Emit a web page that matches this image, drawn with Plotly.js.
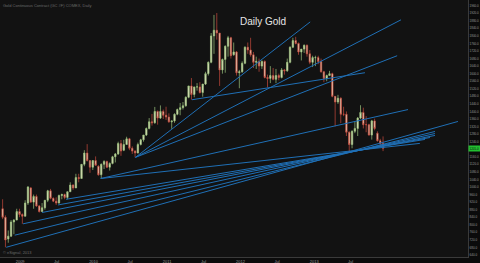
<!DOCTYPE html>
<html>
<head>
<meta charset="utf-8">
<script src="https://cdn.plot.ly/plotly-3.0.1.min.js"></script>
<style>html,body{margin:0;padding:0;background:#0b0b0b;}#chart{width:480px;height:263px;}</style>
</head>
<body>
<div id="chart"></div>
<script>
// Biweekly bars (period start), gold price USD/oz
const dates = ["2008-10-06","2008-10-20","2008-11-03","2008-11-17","2008-12-01","2008-12-15","2008-12-29","2009-01-12","2009-01-26","2009-02-09","2009-02-23","2009-03-09","2009-03-23","2009-04-06","2009-04-20","2009-05-04","2009-05-18","2009-06-01","2009-06-15","2009-06-29","2009-07-13","2009-07-27","2009-08-10","2009-08-24","2009-09-07","2009-09-21","2009-10-05","2009-10-19","2009-11-02","2009-11-16","2009-11-30","2009-12-14","2009-12-28","2010-01-11","2010-01-25","2010-02-08","2010-02-22","2010-03-08","2010-03-22","2010-04-05","2010-04-19","2010-05-03","2010-05-17","2010-05-31","2010-06-14","2010-06-28","2010-07-12","2010-07-26","2010-08-09","2010-08-23","2010-09-06","2010-09-20","2010-10-04","2010-10-18","2010-11-01","2010-11-15","2010-11-29","2010-12-13","2010-12-27","2011-01-10","2011-01-24","2011-02-07","2011-02-21","2011-03-07","2011-03-21","2011-04-04","2011-04-18","2011-05-02","2011-05-16","2011-05-30","2011-06-13","2011-06-27","2011-07-11","2011-07-25","2011-08-08","2011-08-22","2011-09-05","2011-09-19","2011-10-03","2011-10-17","2011-10-31","2011-11-14","2011-11-28","2011-12-12","2011-12-26","2012-01-09","2012-01-23","2012-02-06","2012-02-20","2012-03-05","2012-03-19","2012-04-02","2012-04-16","2012-04-30","2012-05-14","2012-05-28","2012-06-11","2012-06-25","2012-07-09","2012-07-23","2012-08-06","2012-08-20","2012-09-03","2012-09-17","2012-10-01","2012-10-15","2012-10-29","2012-11-12","2012-11-26","2012-12-10","2012-12-24","2013-01-07","2013-01-21","2013-02-04","2013-02-18","2013-03-04","2013-03-18","2013-04-01","2013-04-15","2013-04-29","2013-05-13","2013-05-27","2013-06-10","2013-06-24","2013-07-08","2013-07-22","2013-08-05","2013-08-19","2013-09-02","2013-09-16","2013-09-30","2013-10-14","2013-10-28","2013-11-11","2013-11-25","2013-12-09"];
const opens  = [885,840,725,740,815,825,870,855,845,915,995,920,950,900,870,890,930,980,940,925,915,955,960,945,975,1010,995,1050,1045,1120,1180,1140,1105,1140,1110,1065,1120,1135,1105,1125,1160,1175,1230,1195,1225,1255,1205,1190,1180,1225,1250,1275,1310,1345,1340,1400,1365,1400,1380,1370,1345,1350,1385,1410,1420,1430,1475,1535,1490,1530,1530,1500,1545,1600,1660,1800,1830,1815,1620,1675,1745,1790,1700,1715,1605,1610,1655,1740,1725,1700,1660,1665,1640,1665,1580,1575,1590,1570,1590,1580,1620,1615,1660,1740,1775,1760,1715,1730,1750,1705,1660,1685,1685,1665,1610,1575,1590,1600,1480,1450,1470,1385,1385,1290,1225,1295,1310,1365,1395,1330,1330,1275,1350,1285,1245,1230];
const highs  = [935,850,770,825,830,885,885,860,930,1005,1000,960,960,905,915,930,985,990,945,945,960,965,965,975,1025,1015,1070,1070,1120,1195,1227,1140,1140,1162,1115,1125,1142,1140,1130,1165,1180,1240,1249,1250,1266,1260,1215,1195,1235,1255,1275,1315,1365,1387,1424,1405,1432,1410,1425,1390,1350,1390,1415,1445,1450,1480,1535,1577,1530,1550,1555,1545,1610,1665,1815,1911,1921,1815,1680,1750,1800,1795,1765,1720,1620,1665,1745,1765,1790,1715,1690,1680,1670,1670,1595,1640,1630,1625,1600,1630,1625,1680,1745,1790,1795,1765,1730,1755,1755,1725,1695,1695,1695,1680,1615,1595,1615,1605,1480,1488,1475,1425,1400,1295,1300,1348,1370,1433,1420,1375,1335,1355,1362,1295,1255,1268];
const lows   = [830,681,705,735,750,825,840,805,845,905,915,885,895,865,868,880,920,935,920,905,912,935,935,935,975,985,995,1025,1045,1110,1135,1075,1090,1115,1060,1045,1095,1100,1087,1120,1130,1170,1165,1190,1225,1195,1175,1157,1178,1220,1240,1270,1305,1325,1335,1330,1360,1360,1355,1340,1308,1340,1380,1380,1410,1425,1470,1462,1475,1510,1495,1478,1540,1590,1655,1705,1780,1535,1600,1605,1690,1680,1695,1590,1523,1605,1650,1705,1690,1630,1625,1610,1625,1575,1527,1550,1565,1550,1565,1575,1595,1610,1655,1735,1755,1700,1670,1710,1690,1650,1635,1640,1650,1605,1555,1560,1590,1475,1321,1440,1338,1375,1270,1180,1205,1285,1270,1360,1310,1290,1272,1251,1300,1240,1211,1190];
const closes = [840,720,740,815,825,870,855,845,915,1000,920,950,900,870,890,930,980,940,925,915,955,960,945,975,1010,995,1050,1045,1120,1180,1140,1105,1140,1115,1065,1120,1135,1105,1125,1160,1175,1230,1190,1225,1255,1205,1190,1180,1225,1250,1275,1310,1345,1340,1400,1365,1400,1380,1370,1345,1350,1385,1410,1420,1430,1475,1535,1490,1530,1530,1500,1545,1600,1660,1800,1830,1815,1620,1675,1745,1790,1695,1715,1605,1610,1655,1740,1725,1700,1660,1665,1640,1665,1580,1575,1590,1570,1590,1580,1620,1615,1660,1740,1775,1760,1715,1730,1750,1705,1660,1685,1685,1665,1610,1575,1590,1600,1480,1450,1470,1385,1385,1290,1225,1295,1310,1365,1395,1330,1330,1275,1350,1310,1245,1230,1205];

// Trendlines: start pivot -> extended end
const lineStartDates  = ["2010-07-28","2010-07-28","2010-07-28","2011-05-05","2010-02-05","2010-02-05","2008-10-24","2008-12-05","2009-01-15","2009-04-20","2009-07-08","2009-08-17"];
const lineStartPrices = [1157,1157,1157,1462,1045,1045,681,745,805,865,905,935];
const lineEndDates    = ["2014-03-08","2012-12-12","2014-02-17","2013-09-10","2014-04-12","2014-06-10","2014-12-16","2014-08-24","2014-08-24","2014-08-24","2014-07-30","2014-07-05"];
const lineEndPrices   = [1885,1874,1695,1605,1410,1231,1347,1294,1283,1273,1262,1252];

const xTickVals = ["2009-01-01","2009-07-01","2010-01-01","2010-07-01","2011-01-01","2011-07-01","2012-01-01","2012-07-01","2013-01-01","2013-07-01"];
const xTickText = ["2009","Jul","2010","Jul","2011","Jul","2012","Jul","2013","Jul"];
// Right-axis price labels (the 1200.0 slot is taken by the last-price tag)
const yTickVals = [640,680,720,760,800,840,880,920,960,1000,1040,1080,1120,1160,1240,1280,1320,1360,1400,1440,1480,1520,1560,1600,1640,1680,1720,1760,1800,1840,1880,1920,1960];
const yTickText = ["640.0","680.0","720.0","760.0","800.0","840.0","880.0","920.0","960.0","1000.0","1040.0","1080.0","1120.0","1160.0","1240.0","1280.0","1320.0","1360.0","1400.0","1440.0","1480.0","1520.0","1560.0","1600.0","1640.0","1680.0","1720.0","1760.0","1800.0","1840.0","1880.0","1920.0","1960.0"];
const lastPriceLabel = "1205.0";

const traces = [];
for (let i = 0; i < lineStartDates.length; i++) {
  traces.push({
    type: "scatter", mode: "lines",
    x: [lineStartDates[i], lineEndDates[i]],
    y: [lineStartPrices[i], lineEndPrices[i]],
    line: {color: "#1f6fb5", width: 1},
    hoverinfo: "skip", showlegend: false
  });
}
traces.push({
  type: "candlestick",
  x: dates, open: opens, high: highs, low: lows, close: closes,
  increasing: {line: {color: "#9cc47e", width: 0.7}, fillcolor: "#e9e3c6"},
  decreasing: {line: {color: "#c84a3e", width: 0.7}, fillcolor: "#e9e3c6"},
  whiskerwidth: 0,
  width: 6.5e8,
  showlegend: false
});

const layout = {
  width: 480, height: 263,
  margin: {l: 0, r: 12, t: 0, b: 6, pad: 0},
  paper_bgcolor: "#0b0b0b",
  plot_bgcolor: "#121212",
  showlegend: false,
  xaxis: {
    type: "date",
    range: ["2008-09-23", "2015-02-04"],
    tickvals: xTickVals, ticktext: xTickText,
    tickfont: {family: "Arial, Liberation Sans, sans-serif", size: 4, color: "#9a9a9a"},
    showgrid: false, zeroline: false,
    showline: true, linecolor: "#3a3a3a", linewidth: 1,
    ticks: "", automargin: false,
    rangeslider: {visible: false}, fixedrange: true
  },
  yaxis: {
    side: "right",
    range: [629.5, 1990],
    tickvals: yTickVals, ticktext: yTickText,
    tickfont: {family: "Arial, Liberation Sans, sans-serif", size: 3, color: "#9a9a9a"},
    ticklabelstandoff: 0,
    showgrid: false, zeroline: false,
    showline: true, linecolor: "#3a3a3a", linewidth: 1,
    ticks: "", automargin: false, fixedrange: true
  },
  annotations: [
    {text: "Daily Gold", xref: "paper", yref: "paper", x: 0.562, y: 0.918,
     xanchor: "center", yanchor: "middle",
     showarrow: false, font: {family: "Arial, Liberation Sans, sans-serif", size: 10, color: "#e6e6e6"}},
    {text: "Gold Continuous Contract (GC #F) COMEX, Daily", xref: "paper", yref: "paper", x: 0.002, y: 0.995,
     xanchor: "left", yanchor: "top", showarrow: false,
     font: {family: "Arial, Liberation Sans, sans-serif", size: 4, color: "#6a6a6a"}},
    {text: "© eSignal, 2013", xref: "paper", yref: "paper", x: 0.002, y: 0.0,
     xanchor: "left", yanchor: "bottom", showarrow: false,
     font: {family: "Arial, Liberation Sans, sans-serif", size: 4, color: "#6a6a6a"}},
    {text: lastPriceLabel, xref: "paper", yref: "y", x: 1.0, y: closes[closes.length - 1],
     xanchor: "left", yanchor: "middle", showarrow: false, bgcolor: "#22c030",
     borderpad: 0.5,
     font: {family: "Arial, Liberation Sans, sans-serif", size: 3, color: "#0b0b0b"}}
  ]
};

Plotly.newPlot("chart", traces, layout, {staticPlot: true, displayModeBar: false});
</script>
</body>
</html>
